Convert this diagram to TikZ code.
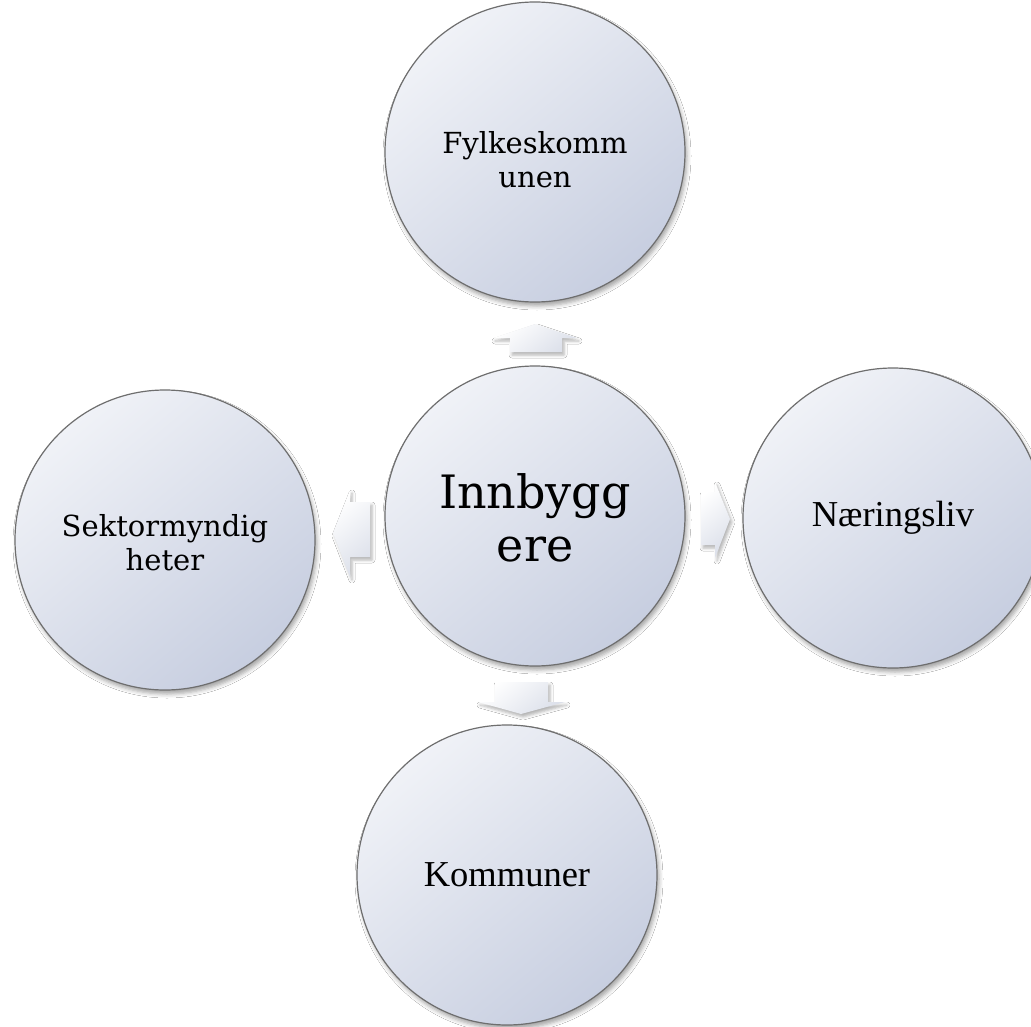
\documentclass[tikz,border=0pt]{standalone}
\usepackage{fontspec}
\setmainfont{DejaVu Serif}
\newfontfamily\timesfont{Liberation Serif}
\usetikzlibrary{shadows.blur}
\definecolor{fillA}{HTML}{F0F2F7}
\definecolor{fillB}{HTML}{C7CEE0}
\definecolor{arrA}{HTML}{FFFFFF}
\definecolor{arrB}{HTML}{DCE0EA}
\definecolor{edge}{HTML}{6E6E6E}
\tikzset{
  bubble/.style={circle, minimum size=300pt, inner sep=0pt, draw=edge, line width=1.2pt,
    top color=fillA, bottom color=fillB, shading angle=40, align=center,
    blur shadow={shadow xshift=2pt, shadow yshift=-4pt, shadow blur radius=4pt, shadow opacity=35}},
  blockarrow/.style={top color=arrA, bottom color=arrB, shading angle=40, draw=none,
    blur shadow={shadow xshift=2pt, shadow yshift=-3pt, shadow blur radius=3pt, shadow opacity=30}},
  label text/.style={align=center, inner sep=0pt},
  smalltxt/.style={font=\fontsize{29}{34}\selectfont},
  bigtxt/.style={font=\fontsize{46}{53}\selectfont},
  timestxt/.style={font=\timesfont\fontsize{36.5}{40}\selectfont}
}
\begin{document}
\begin{tikzpicture}[x=1pt,y=-1pt]
\useasboundingbox[fill=white] (0,0) rectangle (1031,1027);
% arrows
\path[blockarrow] (510,352) -- (510,338) -- (493,338) -- (535,324) -- (577,338) -- (562,338) -- (562,352) -- cycle;
\path[blockarrow] (495,682) -- (548,682) -- (548,702) -- (565,702) -- (521,714) -- (478,702) -- (495,702) -- cycle;
\path[blockarrow] (370,502) -- (350,502) -- (350,490) -- (333,533) -- (350,577) -- (350,557) -- (370,557) -- cycle;
\path[blockarrow] (701,492) -- (715,492) -- (715,482) -- (730,519) -- (715,558) -- (715,545) -- (701,545) -- cycle;
% circles
\node[bubble] (top) at (535,152) {};
\node[label text, smalltxt, yshift=-8pt] (toptext) at (top.center) {Fylkeskomm\\unen};
\node[bubble] (mid) at (535,516) {};
\node[label text, bigtxt, yshift=-2pt] (midtext) at (mid.center) {Innbygg\\ere};
\node[bubble] (left) at (165,540) {};
\node[label text, smalltxt, yshift=-3pt] (lefttext) at (left.center) {Sektormyndig\\heter};
\node[bubble] (right) at (893,518) {};
\node[label text, timestxt] (righttext) at (right.center) {Næringsliv};
\node[bubble] (bottom) at (507,875) {};
\node[label text, timestxt] (bottomtext) at (bottom.center) {Kommuner};
\end{tikzpicture}
\end{document}
